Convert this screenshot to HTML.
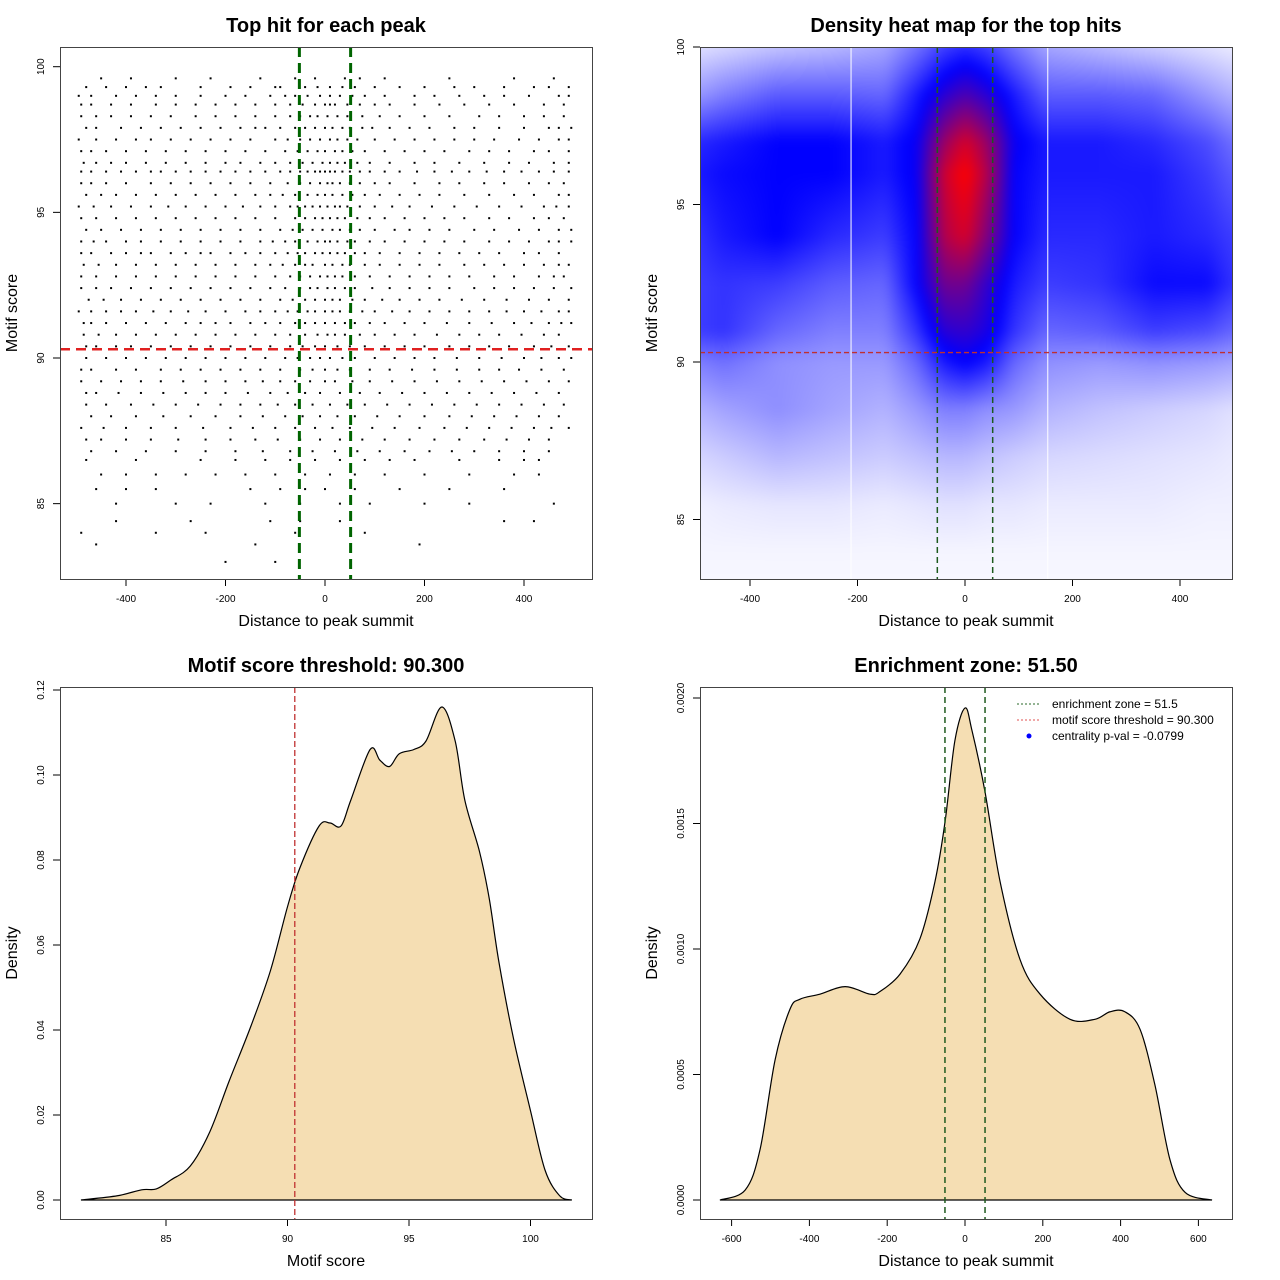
<!DOCTYPE html>
<html><head><meta charset="utf-8"><style>
html,body{margin:0;padding:0;background:#fff;}
#wrap{position:relative;width:1280px;height:1280px;overflow:hidden;font-family:"Liberation Sans",sans-serif;}
#heatbox{position:absolute;left:700px;top:47px;width:532px;height:532px;overflow:hidden;}
#heat{position:absolute;left:-20px;top:-20px;filter:blur(5px);}
svg{position:absolute;left:0;top:0;}
</style></head><body>
<div id="wrap">
<div id="heatbox"><canvas id="heat" width="572" height="572"></canvas></div>
<svg id="svg" width="1280" height="1280" xmlns="http://www.w3.org/2000/svg"></svg>
</div>
<script>
// ---- data ----
const scoreLevels=[99.6,99.3,99.0,98.7,98.3,97.9,97.5,97.1,96.7,96.4,96.0,95.6,95.2,94.8,94.4,94.0,93.6,93.2,92.8,92.4,92.0,91.6,91.2,90.8,90.4,90.0,89.6,89.2,88.8,88.4,88.0,87.6,87.2,86.8,86.5,86.0,85.5,85.0,84.4,84.0,83.6,83.0];
const hitDistances=[
[-450,-230,-130,-20,40,250,460],
[-480,-400,-330,-150,-90,-40,10,60,150,300,420,490],
[-470,-380,-300,-200,-110,-60,-10,30,80,180,270,360,470],
[-490,-430,-340,-260,-180,-100,-45,0,20,70,130,230,330,440],
[-460,-390,-310,-220,-140,-70,-30,5,45,110,200,310,400,480],
[-480,-410,-330,-250,-170,-120,-60,-20,15,50,95,170,260,350,450,495],
[-495,-420,-350,-270,-190,-100,-50,-10,25,65,140,220,300,390,470],
[-470,-400,-320,-240,-160,-80,-35,0,35,80,160,240,330,420,490],
[-485,-430,-360,-280,-200,-130,-70,-25,10,40,90,180,270,370,460],
[-490,-440,-380,-330,-270,-210,-150,-90,-50,-20,0,20,50,90,150,220,290,360,430,490],
[-470,-400,-310,-230,-150,-75,-30,5,30,70,130,230,320,410,480],
[-480,-420,-340,-260,-180,-110,-60,-15,15,55,110,190,280,380,470],
[-495,-430,-350,-280,-200,-130,-70,-40,-10,20,45,100,170,260,350,440,490],
[-460,-380,-300,-220,-140,-60,-20,10,40,90,160,240,330,420,480],
[-480,-410,-330,-250,-170,-90,-45,-5,30,70,140,210,300,390,470],
[-490,-440,-370,-290,-210,-130,-80,-35,0,25,60,120,200,280,370,450,495],
[-470,-400,-350,-280,-230,-160,-100,-55,-20,10,40,80,150,230,310,400,470],
[-485,-420,-340,-260,-180,-110,-60,-25,15,50,110,190,280,360,440,490],
[-460,-380,-300,-220,-140,-70,-30,5,35,90,170,250,340,430,480],
[-490,-430,-350,-270,-190,-110,-50,-15,20,60,130,210,300,380,460],
[-475,-410,-330,-250,-170,-90,-40,0,30,80,150,230,320,410,490],
[-495,-440,-380,-310,-240,-160,-100,-55,-20,15,50,100,170,250,330,400,470],
[-470,-400,-320,-250,-190,-120,-60,-20,20,60,120,200,290,380,450,495],
[-485,-420,-340,-260,-180,-100,-40,5,40,100,180,270,350,440],
[-460,-390,-310,-230,-150,-70,-20,25,80,160,250,330,420,490],
[-480,-400,-320,-240,-160,-80,-30,10,60,140,220,310,400,470],
[-470,-380,-290,-210,-130,-50,0,50,130,220,310,390,480],
[-490,-410,-330,-240,-160,-90,-30,20,90,180,270,360,450],
[-460,-370,-280,-200,-110,-40,30,110,200,290,380,470],
[-480,-390,-300,-210,-130,-60,10,80,170,260,350,440],
[-470,-380,-270,-170,-80,-10,60,150,250,340,430],
[-490,-400,-300,-190,-100,-20,50,140,240,330,420,490],
[-450,-350,-240,-140,-50,30,120,220,320,410],
[-420,-300,-180,-70,20,110,210,300,400],
[-480,-250,-120,-20,80,180,350,430],
[-400,-280,-160,-40,60,200,380],
[-460,-340,-90,0,150,360],
[-300,-230,-50,90,290,460],
[-420,-110,30,360],
[-490,-340,-60],
[-460,-140,190],
[-200]];
const hitDistances2=[
[-390,-300,-60,70,120,380],
[-440,-360,-250,-190,-100,-15,35,100,200,260,360,450],
[-495,-420,-340,-250,-160,-80,-35,10,55,120,220,320,410,490],
[-470,-390,-300,-220,-140,-70,-20,10,45,100,180,280,380,480],
[-490,-430,-350,-260,-180,-100,-50,-15,25,75,150,250,350,440],
[-460,-370,-290,-210,-140,-90,-40,0,35,75,130,210,300,400,470],
[-460,-380,-310,-230,-150,-75,-30,10,45,100,180,260,340,430,490],
[-490,-440,-360,-280,-200,-120,-55,-15,20,55,120,200,290,370,450],
[-460,-400,-320,-240,-170,-100,-45,-5,25,65,130,220,320,410,490],
[-470,-410,-350,-300,-240,-180,-120,-70,-35,-10,10,35,70,120,185,255,325,395,460],
[-490,-440,-350,-270,-190,-110,-50,-10,15,50,100,180,270,360,450],
[-450,-380,-300,-220,-140,-85,-35,0,35,80,150,230,330,420,490],
[-465,-390,-315,-240,-165,-100,-55,-25,5,30,70,135,215,305,395,465],
[-490,-420,-340,-260,-180,-100,-40,-5,25,65,120,200,280,370,450],
[-450,-370,-290,-210,-130,-65,-25,15,50,100,170,250,340,430,495],
[-465,-400,-330,-250,-170,-105,-60,-15,10,45,90,160,240,330,410,470],
[-490,-430,-370,-310,-250,-190,-130,-75,-40,-5,25,60,110,190,270,350,430],
[-455,-380,-300,-220,-140,-85,-40,0,35,80,150,230,320,400,470],
[-490,-420,-340,-260,-180,-100,-50,-10,20,60,130,210,290,380,460],
[-460,-390,-310,-230,-150,-80,-30,5,40,95,170,250,340,420,495],
[-445,-370,-290,-210,-130,-65,-20,15,55,115,190,275,365,450],
[-470,-410,-345,-275,-200,-130,-75,-35,0,30,75,135,210,290,365,435,490],
[-485,-440,-360,-280,-220,-150,-90,-40,0,40,90,160,245,335,415,475],
[-455,-380,-300,-220,-140,-70,-15,20,70,140,225,310,395,470],
[-480,-420,-350,-270,-190,-110,-45,0,50,120,200,290,370,455],
[-440,-360,-280,-200,-120,-55,-10,35,100,180,265,355,435,495],
[-490,-420,-330,-250,-170,-90,-25,25,90,175,265,350,435],
[-450,-370,-285,-200,-125,-60,0,55,135,225,315,405,490],
[-480,-415,-325,-240,-155,-75,-10,70,155,245,335,425],
[-440,-345,-255,-170,-95,-25,45,125,215,305,395,480],
[-430,-325,-220,-125,-45,25,105,200,295,385,470],
[-445,-350,-245,-145,-60,15,95,190,285,375,455],
[-480,-400,-295,-190,-95,-10,75,170,270,365,450],
[-470,-360,-240,-125,-25,65,160,255,350,450],
[-380,-180,-70,30,130,270,400],
[-450,-340,-220,-100,10,120,290,430],
[-400,-150,-40,60,250],
[-420,-120,30,200],
[-270,-50,420],
[-240,80],
[],
[-100]];
const enrichZone=51.5;
const scoreThreshold=90.3;
// heatmap grid
const heatX=[-500,-450,-350,-250,-150,-90,-40,0,40,90,150,250,350,450,500];
const heatY=[101,100,98.5,97,96,94,92.5,91,90,88.5,87,85.5,84,82];
const heatV=[
[0.02,0.04,0.06,0.08,0.1,0.15,0.22,0.25,0.22,0.15,0.1,0.08,0.06,0.04,0.02],
[0.06,0.08,0.12,0.14,0.18,0.28,0.38,0.42,0.38,0.28,0.18,0.14,0.1,0.06,0.04],
[0.2,0.25,0.32,0.32,0.3,0.45,0.58,0.65,0.58,0.45,0.32,0.32,0.3,0.2,0.15],
[0.42,0.45,0.5,0.5,0.45,0.52,0.8,0.92,0.8,0.52,0.45,0.45,0.42,0.35,0.28],
[0.45,0.48,0.5,0.5,0.45,0.52,0.9,1.0,0.85,0.5,0.45,0.45,0.45,0.38,0.32],
[0.4,0.45,0.5,0.42,0.38,0.5,0.85,0.92,0.75,0.5,0.42,0.42,0.45,0.42,0.38],
[0.38,0.4,0.38,0.32,0.3,0.5,0.72,0.72,0.6,0.45,0.38,0.4,0.48,0.48,0.4],
[0.38,0.4,0.3,0.25,0.25,0.4,0.58,0.6,0.55,0.4,0.3,0.32,0.38,0.35,0.3],
[0.25,0.28,0.22,0.2,0.2,0.3,0.45,0.5,0.45,0.3,0.22,0.2,0.22,0.2,0.18],
[0.15,0.18,0.22,0.18,0.15,0.2,0.25,0.25,0.22,0.2,0.15,0.12,0.1,0.08,0.06],
[0.08,0.1,0.14,0.12,0.1,0.12,0.14,0.14,0.12,0.1,0.08,0.07,0.06,0.05,0.04],
[0.03,0.04,0.05,0.05,0.04,0.05,0.06,0.06,0.05,0.05,0.04,0.04,0.04,0.03,0.03],
[0.02,0.02,0.02,0.02,0.02,0.02,0.02,0.02,0.02,0.02,0.02,0.02,0.02,0.02,0.02],
[0.01,0.01,0.01,0.01,0.01,0.01,0.01,0.01,0.01,0.01,0.01,0.01,0.01,0.01,0.01]];
// score density
const scoreX=[81.5,83,84,84.6,85.2,86,86.8,87.6,88.5,89.3,90,90.5,91.3,91.75,92.2,92.6,93.4,93.8,94.2,94.6,95.2,95.7,96.35,96.9,97.3,97.9,98.3,98.7,99.3,100,100.6,101.2,101.7];
const scoreDens=[0,0.001,0.0024,0.0026,0.0047,0.008,0.016,0.028,0.041,0.054,0.069,0.078,0.088,0.0887,0.088,0.094,0.106,0.1035,0.102,0.105,0.106,0.108,0.116,0.108,0.094,0.082,0.071,0.056,0.038,0.021,0.007,0.001,0];
// distance density
const distX=[-630,-565,-527,-488,-450,-424,-373,-308,-244,-219,-167,-116,-77,-51,-26,0,18,51,90,141,193,270,334,373,411,450,488,527,566,635];
const distDens=[0,0.00004,0.0002,0.00056,0.00076,0.0008,0.00082,0.00085,0.00082,0.00083,0.0009,0.00104,0.00127,0.00151,0.00183,0.00196,0.00187,0.00163,0.00127,0.00096,0.00082,0.00072,0.00072,0.00075,0.00075,0.00068,0.00046,0.00016,0.00003,0];
const p1XTicks=[-400,-200,0,200,400], p1YTicks=[85,90,95,100];
const p3XTicks=[85,90,95,100], p3YTicks=[0,0.02,0.04,0.06,0.08,0.10,0.12];
const p4XTicks=[-600,-400,-200,0,200,400,600], p4YTicks=[0,0.0005,0.001,0.0015,0.002];

// ---- scales ----
const x1=d=>325+d*0.4975, y1=s=>358-(s-90)*29.13;
const x2=d=>965+d*0.5375, y2=s=>362-(s-90)*31.5;
const x3=s=>287.5+(s-90)*24.3, y3=v=>1200-v*4250;
const x4=d=>965+d*0.389, y4=v=>1200-v*251000;

const svg=document.getElementById('svg');
const NS='http://www.w3.org/2000/svg';
function mk(tag,at,parent){const e=document.createElementNS(NS,tag);for(const k in at)e.setAttribute(k,at[k]);(parent||svg).appendChild(e);return e;}
function txt(s,x,y,size,extra,parent){const t=mk('text',Object.assign({x:x,y:y,'font-size':size,'text-anchor':'middle','font-family':'Liberation Sans, sans-serif',fill:'#000'},extra||{}),parent);t.textContent=s;return t;}

function panel(name,L,T,W,H,title,xlab,ylab,xt,xf,xs,yt,yf,ys){
  const g=mk('g',{});
  
  
  const tt=txt(title,L+W/2,T-15,20,{'font-weight':'bold'},g);
  
  
  const xl=txt(xlab,L+W/2,T+H+47,16,{},g);
  
  
  const yl=txt(ylab,0,0,16,{transform:`translate(${L-43},${T+H/2}) rotate(-90)`},g);
  
  
  const ax=mk('g',{},g);
  
  
  xt.forEach(v=>{const px=xs(v);mk('line',{x1:px,x2:px,y1:T+H,y2:T+H+7,stroke:'#000','stroke-width':1},ax);txt(xf(v),px,T+H+23,10,{},ax);});
  const ay=mk('g',{},g);
  
  
  yt.forEach(v=>{const py=ys(v);mk('line',{x1:L-7,x2:L,y1:py,y2:py,stroke:'#000','stroke-width':1},ay);txt(yf(v),0,0,10,{transform:`translate(${L-16},${py}) rotate(-90)`},ay);});
  return g;
}
function box(L,T,W,H,name){const r=mk('rect',{x:L+0.5,y:T+0.5,width:W,height:H,fill:'none',stroke:'#444','stroke-width':1});}
function spline(xs,ys){let p=`M${xs[0]},${ys[0]}`;for(let i=0;i<xs.length-1;i++){const x0=xs[Math.max(i-1,0)],y0=ys[Math.max(i-1,0)],xa=xs[i],ya=ys[i],xb=xs[i+1],yb=ys[i+1],x3_=xs[Math.min(i+2,xs.length-1)],y3_=ys[Math.min(i+2,xs.length-1)];p+=` C${xa+(xb-x0)/6},${ya+(yb-y0)/6} ${xb-(x3_-xa)/6},${yb-(y3_-ya)/6} ${xb},${yb}`;}return p;}

// ---- Panel 1 scatter ----
panel('scatter-panel',60,47,532,532,'Top hit for each peak','Distance to peak summit','Motif score',p1XTicks,String,x1,p1YTicks,String,y1);
const pts=mk('g',{fill:'#000'});


[hitDistances,hitDistances2].forEach((set,k)=>{
  scoreLevels.forEach((s,i)=>{set[i].forEach(d=>{
    const r=mk('rect',{x:x1(d)-1,y:y1(s)-1+(k?0:0),width:2,height:2},pts);
    
    
  });});
});
[-enrichZone,enrichZone].forEach(d=>{const l=mk('line',{x1:x1(d),x2:x1(d),y1:47,y2:579,stroke:'#006400','stroke-width':3,'stroke-dasharray':'10,6'});});
{const l=mk('line',{x1:60,x2:592,y1:y1(scoreThreshold),y2:y1(scoreThreshold),stroke:'#e02020','stroke-width':2.5,'stroke-dasharray':'10,6'});}
box(60,47,532,532,'scatter-plot-box');

// ---- Panel 2 heatmap ----
(function(){
  const c=document.getElementById('heat'),ctx=c.getContext('2d');
  const img=ctx.createImageData(572,572);
  function interp(arr,v){
    const asc=arr[1]>arr[0];
    if(asc? v<=arr[0] : v>=arr[0]) return [0,0];
    if(asc? v>=arr[arr.length-1] : v<=arr[arr.length-1]) return [arr.length-2,1];
    for(let i=0;i<arr.length-1;i++){const a=arr[i],b=arr[i+1];if((v-a)*(v-b)<=0){return [i,(v-a)/(b-a)];}}
    return [0,0];
  }
  for(let py=0;py<572;py++){
    const s=90-((py-20+47)-362)/31.5;
    const [iy,ty]=interp(heatY,s);
    for(let px=0;px<572;px++){
      const d=((px-20+700)-965)/0.5375;
      const [ix,tx]=interp(heatX,d);
      const v=(heatV[iy][ix]*(1-tx)+heatV[iy][ix+1]*tx)*(1-ty)+(heatV[iy+1][ix]*(1-tx)+heatV[iy+1][ix+1]*tx)*ty;
      let r,g,b;
      if(v<0.5){const t=v/0.5;r=255*(1-t);g=255*(1-t);b=255;}else{const t=Math.min(1,(v-0.5)/0.5);r=255*t;g=0;b=255*(1-t);}
      const k=(py*572+px)*4;img.data[k]=r;img.data[k+1]=g;img.data[k+2]=b;img.data[k+3]=255;
    }
  }
  ctx.putImageData(img,0,0);
})();
panel('heatmap-panel',700,47,532,532,'Density heat map for the top hits','Distance to peak summit','Motif score',p1XTicks,String,x2,p1YTicks,String,y2);
[-212,154].forEach(d=>{const l=mk('line',{x1:x2(d),x2:x2(d),y1:47,y2:579,stroke:'#fff','stroke-width':1});});
[-enrichZone,enrichZone].forEach(d=>{const l=mk('line',{x1:x2(d),x2:x2(d),y1:47,y2:579,stroke:'#1e5a1e','stroke-width':1.5,'stroke-dasharray':'6,4'});});
{const l=mk('line',{x1:700,x2:1232,y1:y2(scoreThreshold),y2:y2(scoreThreshold),stroke:'#c03030','stroke-width':1.3,'stroke-dasharray':'5,3'});}
box(700,47,532,532,'heatmap-plot-box');

// ---- Panel 3 score density ----
panel('score-density-panel',60,687,532,532,'Motif score threshold: 90.300','Motif score','Density',p3XTicks,String,x3,p3YTicks,v=>v.toFixed(2),y3);
{const p=mk('path',{d:spline(scoreX.map(x3),scoreDens.map(y3))+' Z',fill:'#f5deb3',stroke:'#000','stroke-width':1.2});}
{const l=mk('line',{x1:x3(scoreThreshold),x2:x3(scoreThreshold),y1:687,y2:1219,stroke:'#c03030','stroke-width':1.3,'stroke-dasharray':'6,3'});}
box(60,687,532,532,'score-density-box');

// ---- Panel 4 distance density ----
panel('distance-density-panel',700,687,532,532,'Enrichment zone: 51.50','Distance to peak summit','Density',p4XTicks,String,x4,p4YTicks,v=>v.toFixed(4),y4);
{const p=mk('path',{d:spline(distX.map(x4),distDens.map(y4))+' Z',fill:'#f5deb3',stroke:'#000','stroke-width':1.2});}
[-enrichZone,enrichZone].forEach(d=>{const l=mk('line',{x1:x4(d),x2:x4(d),y1:687,y2:1219,stroke:'#1e5a1e','stroke-width':1.5,'stroke-dasharray':'6,4'});});
box(700,687,532,532,'distance-density-box');
// legend
const lg=mk('g',{});


const legItems=[['enrichment zone = 51.5','#2a6a2a','line'],['motif score threshold = 90.300','#e05050','line'],['centrality p-val = -0.0799','#0000ff','dot']];
legItems.forEach((it,i)=>{const y=704+i*16;const e=mk('g',{},lg);
  
  
  if(it[2]==='line')mk('line',{x1:1017,x2:1041,y1:y,y2:y,stroke:it[1],'stroke-width':1,'stroke-dasharray':'2,2'},e);
  else mk('circle',{cx:1029,cy:y,r:2.5,fill:it[1]},e);
  txt(it[0],1052,y+4,12,{'text-anchor':'start'},e);});
</script>
</body></html>
